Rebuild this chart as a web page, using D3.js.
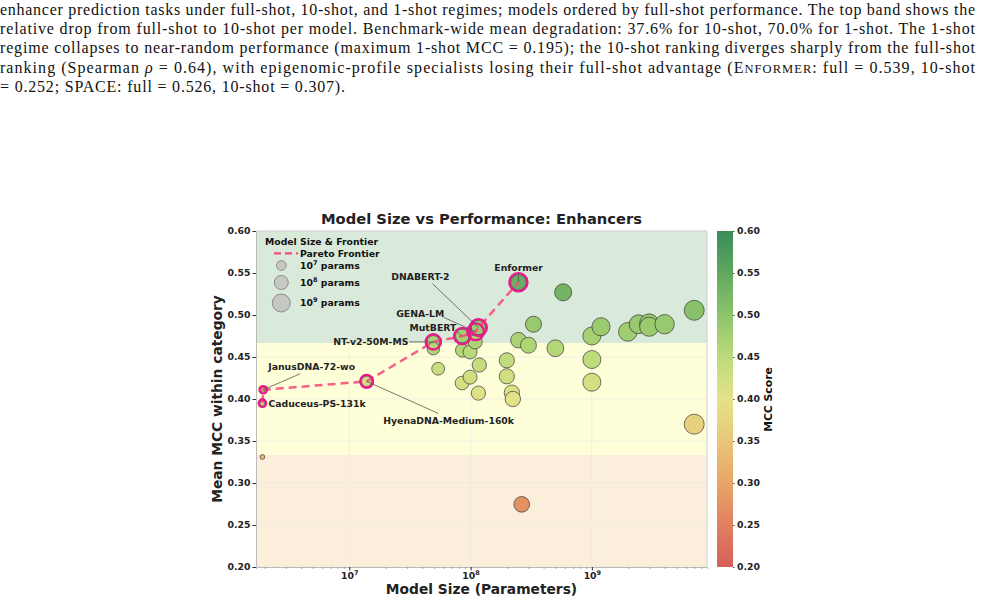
<!DOCTYPE html>
<html><head><meta charset="utf-8">
<script src="https://cdn.jsdelivr.net/npm/d3@7"></script>
<style>
html,body{margin:0;padding:0;background:#fff;}
svg{display:block;}
</style></head>
<body>
<svg id="c" width="985" height="602"></svg>
<script>
// ---------------- DATA ----------------
const params = [1.92e6, 1.95e6, 1.92e6, 1.39e7, 4.93e7, 4.93e7, 5.4e7, 8.55e7, 8.55e7, 9.9e7,
  8.5e7, 9.9e7, 1.10e8, 1.16e8, 1.09e8, 1.18e8, 1.16e8, 1.99e8, 1.99e8, 2.19e8,
  2.23e8, 2.48e8, 2.48e8, 3.0e8, 3.3e8, 2.64e8, 5.0e8, 5.8e8, 1.0e9, 1.19e9,
  1.0e9, 1.0e9, 1.98e9, 2.43e9, 2.97e9, 2.97e9, 3.98e9, 6.98e9, 6.98e9];
const mcc = [0.395, 0.411, 0.331, 0.421, 0.468, 0.460, 0.436, 0.475, 0.458, 0.456,
  0.419, 0.426, 0.480, 0.485, 0.468, 0.4405, 0.407, 0.446, 0.427, 0.4075,
  0.400, 0.539, 0.470, 0.464, 0.489, 0.2746, 0.4604, 0.527, 0.475, 0.486,
  0.447, 0.420, 0.480, 0.489, 0.490, 0.486, 0.489, 0.5056, 0.370];
const names = ["Caduceus-PS-131k", "JanusDNA-72-wo", "", "HyenaDNA-Medium-160k", "NT-v2-50M-MS", "", "", "MutBERT", "", "",
  "", "", "GENA-LM", "DNABERT-2", "", "", "", "", "", "",
  "", "Enformer", "", "", "", "", "", "", "", "",
  "", "", "", "", "", "", "", "", ""];
const frontier = ["Caduceus-PS-131k", "JanusDNA-72-wo", "HyenaDNA-Medium-160k", "NT-v2-50M-MS", "MutBERT", "GENA-LM", "DNABERT-2", "Enformer"];
const yTicks = [0.20, 0.25, 0.30, 0.35, 0.40, 0.45, 0.50, 0.55, 0.60];
const xTicks = [1e7, 1e8, 1e9];
const xTickExp = ["7", "8", "9"];
const cbTicks = [0.20, 0.25, 0.30, 0.35, 0.40, 0.45, 0.50, 0.55, 0.60];
const bandEdges = [0.2, 0.3333, 0.4667, 0.6];
const legendSizes = [1e7, 1e8, 1e9];
const legendExp = ["7", "8", "9"];
const caption = [
  "enhancer prediction tasks under full-shot, 10-shot, and 1-shot regimes; models ordered by full-shot performance. The top band shows the",
  "relative drop from full-shot to 10-shot per model. Benchmark-wide mean degradation: 37.6% for 10-shot, 70.0% for 1-shot. The 1-shot",
  "regime collapses to near-random performance (maximum 1-shot MCC = 0.195); the 10-shot ranking diverges sharply from the full-shot",
  null,
  "= 0.252; SPACE: full = 0.526, 10-shot = 0.307)."
];

// ---------------- LAYOUT ----------------
const svg = d3.select("#c");
const L = 256, R = 707, T = 231, B = 567;
const x = d3.scaleLog().domain([1.7e6, 8.9e9]).range([L, R]);
const y = d3.scaleLinear().domain([0.2, 0.6]).range([B, T]);
const rScale = d3.scaleLinear().domain([6.29, 7, 8, 9, 9.85]).range([2.4, 4.8, 7, 9, 10]).clamp(true);
const r = p => rScale(Math.log10(p));
const cmap = d3.scaleLinear()
  .domain([0.20, 0.25, 0.30, 0.35, 0.40, 0.45, 0.50, 0.55, 0.60])
  .range(["#d65f5a", "#e0805f", "#e9a567", "#e9c679", "#e3e288", "#bedb7b", "#8dc46b", "#5fa85f", "#3a8b5b"])
  .clamp(true);
const bandColors = ["#fbefdb", "#fefed9", "#d9eadb"];
const sans = "'DejaVu Sans', sans-serif";
const small = 9.3;

// ---------------- CAPTION ----------------
const cap = svg.append("g").attr("font-family", "'Liberation Serif','Times New Roman',serif").attr("font-size", 16).attr("fill", "#111");
const capWidths = [975, 975, 975, 975, 345];
caption.forEach((line, i) => {
  const t = cap.append("text").attr("x", 0).attr("y", 15 + i * 19.2)
    .attr("textLength", capWidths[i]).attr("lengthAdjust", "spacing");
  if (line !== null) { t.text(line); return; }
  t.append("tspan").text("ranking (Spearman ");
  t.append("tspan").attr("font-style", "italic").text("\u03c1");
  t.append("tspan").text(" = 0.64), with epigenomic-profile specialists losing their full-shot advantage (E");
  t.append("tspan").attr("font-size", 12.5).text("NFORMER");
  t.append("tspan").text(": full = 0.539, 10-shot");
});

// ---------------- BANDS ----------------
const g = svg.append("g");
for (let i = 0; i < 3; i++) {
  g.append("rect").attr("x", L).attr("width", R - L)
    .attr("y", y(bandEdges[i + 1])).attr("height", y(bandEdges[i]) - y(bandEdges[i + 1]))
    .attr("fill", bandColors[i]);
}
g.selectAll(".gy").data(yTicks).enter().append("line")
  .attr("x1", L).attr("x2", R).attr("y1", d => y(d)).attr("y2", d => y(d))
  .attr("stroke", "#e6e6e6").attr("stroke-width", 0.7).attr("opacity", 0.8);
g.selectAll(".gx").data(xTicks).enter().append("line")
  .attr("x1", d => x(d)).attr("x2", d => x(d)).attr("y1", T).attr("y2", B)
  .attr("stroke", "#e6e6e6").attr("stroke-width", 0.7).attr("opacity", 0.8);

// ---------------- AXES ----------------
const yAxis = d3.axisLeft(y).tickValues(yTicks).tickFormat(d3.format(".2f")).tickSize(3.5).tickPadding(2);
const ya = svg.append("g").attr("transform", `translate(${L},0)`).call(yAxis);
ya.select(".domain").attr("stroke", "#bbb");
ya.selectAll(".tick line").attr("stroke", "#333");
ya.selectAll("text").attr("font-family", sans).attr("font-weight", "bold").attr("font-size", small).attr("fill", "#222");

const minor = [];
for (let e = 6; e <= 9; e++) for (let k = 1; k <= 9; k++) { const v = k * Math.pow(10, e); if (v >= 1.7e6 && v <= 8.9e9) minor.push(v); }
const xMinor = d3.axisBottom(x).tickValues(minor).tickSize(2).tickFormat("");
const xm = svg.append("g").attr("transform", `translate(0,${B})`).call(xMinor);
xm.select(".domain").attr("stroke", "#bbb");
xm.selectAll(".tick line").attr("stroke", "#777").attr("stroke-width", 0.6);
const xAxis = d3.axisBottom(x).tickValues(xTicks).tickFormat("").tickSize(3.5);
const xa = svg.append("g").attr("transform", `translate(0,${B})`).call(xAxis);
xa.select(".domain").remove();
xa.selectAll(".tick line").attr("stroke", "#333");
xa.selectAll(".tick").each(function (d, i) {
  const t = d3.select(this).append("text").attr("y", 12.3).attr("text-anchor", "middle")
    .attr("font-family", sans).attr("font-weight", "bold").attr("font-size", small).attr("fill", "#222");
  t.append("tspan").text("10");
  t.append("tspan").attr("dy", -4).attr("font-size", 6.5).text(xTickExp[i]);
});

svg.append("line").attr("x1", L).attr("x2", R).attr("y1", T).attr("y2", T).attr("stroke", "#d0d0d0");
svg.append("line").attr("x1", R).attr("x2", R).attr("y1", T).attr("y2", B).attr("stroke", "#d0d0d0");

// ---------------- POINTS ----------------
const data = params.map((p, i) => ({ p, v: mcc[i], name: names[i] }));
svg.append("g").selectAll("circle").data(data).enter().append("circle")
  .attr("cx", d => x(d.p)).attr("cy", d => y(d.v)).attr("r", d => r(d.p))
  .attr("fill", d => cmap(d.v)).attr("stroke", "#333").attr("stroke-width", 0.8).attr("stroke-opacity", 0.85);

const fr = frontier.map(n => data.find(d => d.name === n));
svg.append("path").datum(fr)
  .attr("d", d3.line().x(d => x(d.p)).y(d => y(d.v)))
  .attr("fill", "none").attr("stroke", "#f5507d").attr("stroke-width", 2.5)
  .attr("stroke-dasharray", "8,5").attr("opacity", 0.9);
svg.append("g").selectAll("circle").data(fr).enter().append("circle")
  .attr("cx", d => x(d.p)).attr("cy", d => y(d.v)).attr("r", d => r(d.p) + 1.3)
  .attr("fill", "none").attr("stroke", "#e8198b").attr("stroke-width", 2.3);

// ---------------- ANNOTATIONS ----------------
const annLayout = {
  "Caduceus-PS-131k": { tx: 6, ty: 3.5, anchor: "start", line: null },
  "JanusDNA-72-wo": { tx: 5, ty: -19.5, anchor: "start", line: [37, -16] },
  "HyenaDNA-Medium-160k": { tx: 16.6, ty: 42.5, anchor: "start", line: [71.6, 32] },
  "NT-v2-50M-MS": { tx: -25, ty: 3, anchor: "end", line: [-24, 0] },
  "MutBERT": { tx: -6, ty: -5, anchor: "end", line: [-5.5, -4.5] },
  "GENA-LM": { tx: -55.4, ty: -15, anchor: "middle", line: [-32, -14.5] },
  "DNABERT-2": { tx: -58, ty: -48, anchor: "middle", line: [-46, -44] },
  "Enformer": { tx: 0.2, ty: -11, anchor: "middle", line: [0, -7] }
};
const ag = svg.append("g");
fr.forEach(d => {
  const a = annLayout[d.name]; const px = x(d.p), py = y(d.v);
  if (a.line) ag.append("line").attr("x1", px + a.line[0]).attr("y1", py + a.line[1]).attr("x2", px).attr("y2", py)
    .attr("stroke", "#555").attr("stroke-width", 0.8);
  ag.append("text").attr("x", px + a.tx).attr("y", py + a.ty).attr("text-anchor", a.anchor)
    .attr("font-family", sans).attr("font-weight", "bold").attr("font-size", small).attr("fill", "#222").text(d.name);
});

// ---------------- LEGEND ----------------
const lg = svg.append("g").attr("font-family", sans).attr("font-weight", "bold").attr("font-size", small).attr("fill", "#111");
lg.append("text").attr("x", 265).attr("y", 245).text("Model Size & Frontier");
lg.append("line").attr("x1", 274).attr("x2", 298).attr("y1", 253.3).attr("y2", 253.3)
  .attr("stroke", "#f5507d").attr("stroke-width", 2.2).attr("stroke-dasharray", "7,4");
lg.append("text").attr("x", 300).attr("y", 256.8).text("Pareto Frontier");
const legY = [265.5, 282.5, 303];
legendSizes.forEach((s, i) => {
  lg.append("circle").attr("cx", 281.3).attr("cy", legY[i]).attr("r", r(s))
    .attr("fill", "#c8c8c3").attr("stroke", "#777").attr("stroke-width", 0.8);
  const t = lg.append("text").attr("x", 300).attr("y", legY[i] + 3.3);
  t.append("tspan").text("10");
  t.append("tspan").attr("dy", -4).attr("font-size", 6.5).text(legendExp[i]);
  t.append("tspan").attr("dy", 4).text(" params");
});

// ---------------- COLORBAR ----------------
const defs = svg.append("defs");
const grad = defs.append("linearGradient").attr("id", "cb").attr("x1", 0).attr("x2", 0).attr("y1", 1).attr("y2", 0);
d3.range(0, 1.0001, 0.05).forEach(t => grad.append("stop").attr("offset", t).attr("stop-color", cmap(0.2 + 0.4 * t)));
svg.append("rect").attr("x", 717).attr("y", T).attr("width", 16).attr("height", B - T).attr("fill", "url(#cb)");
const cbScale = d3.scaleLinear().domain([0.2, 0.6]).range([B, T]);
const cba = svg.append("g").attr("transform", "translate(733,0)")
  .call(d3.axisRight(cbScale).tickValues(cbTicks).tickFormat(d3.format(".2f")).tickSize(1.5).tickPadding(2.5));
cba.select(".domain").remove();
cba.selectAll(".tick line").attr("stroke", "#555");
cba.selectAll("text").attr("font-family", sans).attr("font-weight", "bold").attr("font-size", small).attr("fill", "#222");
svg.append("text").attr("transform", "translate(772,399.5) rotate(-90)").attr("text-anchor", "middle")
  .attr("font-family", sans).attr("font-weight", "bold").attr("font-size", 10.8).attr("fill", "#111").text("MCC Score");

// ---------------- TITLES ----------------
svg.append("text").attr("x", 481.5).attr("y", 224).attr("text-anchor", "middle")
  .attr("font-family", sans).attr("font-weight", "bold").attr("font-size", 14.7).attr("fill", "#222")
  .text("Model Size vs Performance: Enhancers");
svg.append("text").attr("x", 481.5).attr("y", 594).attr("text-anchor", "middle")
  .attr("font-family", sans).attr("font-weight", "bold").attr("font-size", 13.8).attr("fill", "#222")
  .text("Model Size (Parameters)");
svg.append("text").attr("transform", "translate(222,399) rotate(-90)").attr("text-anchor", "middle")
  .attr("font-family", sans).attr("font-weight", "bold").attr("font-size", 13.8).attr("fill", "#222")
  .text("Mean MCC within category");
</script>
</body></html>
